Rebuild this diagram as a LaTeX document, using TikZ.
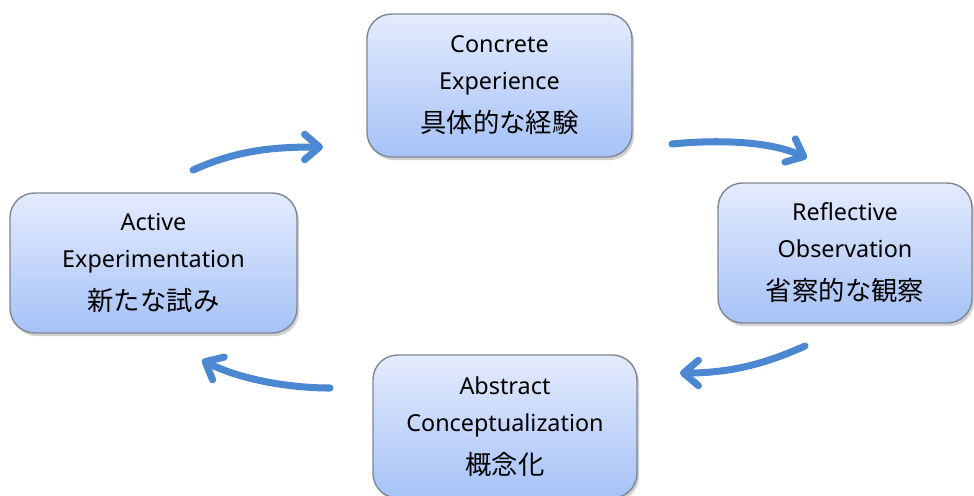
\documentclass[tikz,border=0pt]{standalone}
\usepackage{fontspec}
\setmainfont{Noto Sans}
\newfontfamily\jpfont{Noto Sans CJK JP}
\usetikzlibrary{arrows.meta,shadows}

\definecolor{boxtop}{RGB}{228,235,253}
\definecolor{boxbot}{RGB}{166,194,247}
\definecolor{boxedge}{RGB}{128,134,146}
\definecolor{cyclearrow}{RGB}{76,135,210}

\tikzset{
  stage/.style={rectangle, rounded corners=14pt, draw=boxedge, line width=0.8pt,
    top color=boxtop, bottom color=boxbot,
    drop shadow={shadow xshift=1.2pt, shadow yshift=-1.8pt, opacity=0.35},
    align=center, inner sep=0pt,
    font=\fontsize{13.3}{21}\selectfont},
  cyc/.style={draw=cyclearrow, line width=4pt, line cap=round,
    -{Straight Barb[length=8.5pt,width=14.5pt,round]}}
}
\newcommand{\jptext}[1]{{\jpfont\fontsize{15}{20}\selectfont #1}}

\begin{document}
\begin{tikzpicture}[x=0.02cm, y=-0.02cm]
  \useasboundingbox (0,0) rectangle (974,495);
  \fill[white] (0,0) rectangle (974,495);
  \clip (0,0) rectangle (974,495);

  % the four stages of the learning cycle
  \node[stage, minimum width=5.3cm, minimum height=2.86cm] (ce) at (499.5,85.5)
    {Concrete\\Experience\\[3.5pt]\jptext{具体的な経験}};
  \node[stage, minimum width=5.08cm, minimum height=2.8cm] (ro) at (845,253)
    {Reflective\\Observation\\[3.5pt]\jptext{省察的な観察}};
  \node[stage, minimum width=5.28cm, minimum height=2.86cm] (ac) at (505,426.5)
    {Abstract\\Conceptualization\\[3.5pt]\jptext{概念化}};
  \node[stage, minimum width=5.74cm, minimum height=2.8cm] (ae) at (153.5,263)
    {Active\\Experimentation\\[3.5pt]\jptext{新たな試み}};

  % end points of the curved arrows between the stages
  \coordinate (ae-out) at (193,170);
  \coordinate (ce-in)  at (323,147);
  \coordinate (ce-out) at (672,144);
  \coordinate (ro-in)  at (807,158);
  \coordinate (ro-out) at (805,346);
  \coordinate (ac-in)  at (680,373);
  \coordinate (ac-out) at (330,388);
  \coordinate (ae-in)  at (202,360);

  \draw[cyc] (ae-out) .. controls (238,150) and (273,147) .. (ce-in);
  \draw[cyc] (ce-out) .. controls (712,140) and (767,140) .. (ro-in);
  \draw[cyc] (ro-out) .. controls (765,364) and (730,373) .. (ac-in);
  \draw[cyc] (ac-out) .. controls (285,388) and (237,378) .. (ae-in);
\end{tikzpicture}
\end{document}
